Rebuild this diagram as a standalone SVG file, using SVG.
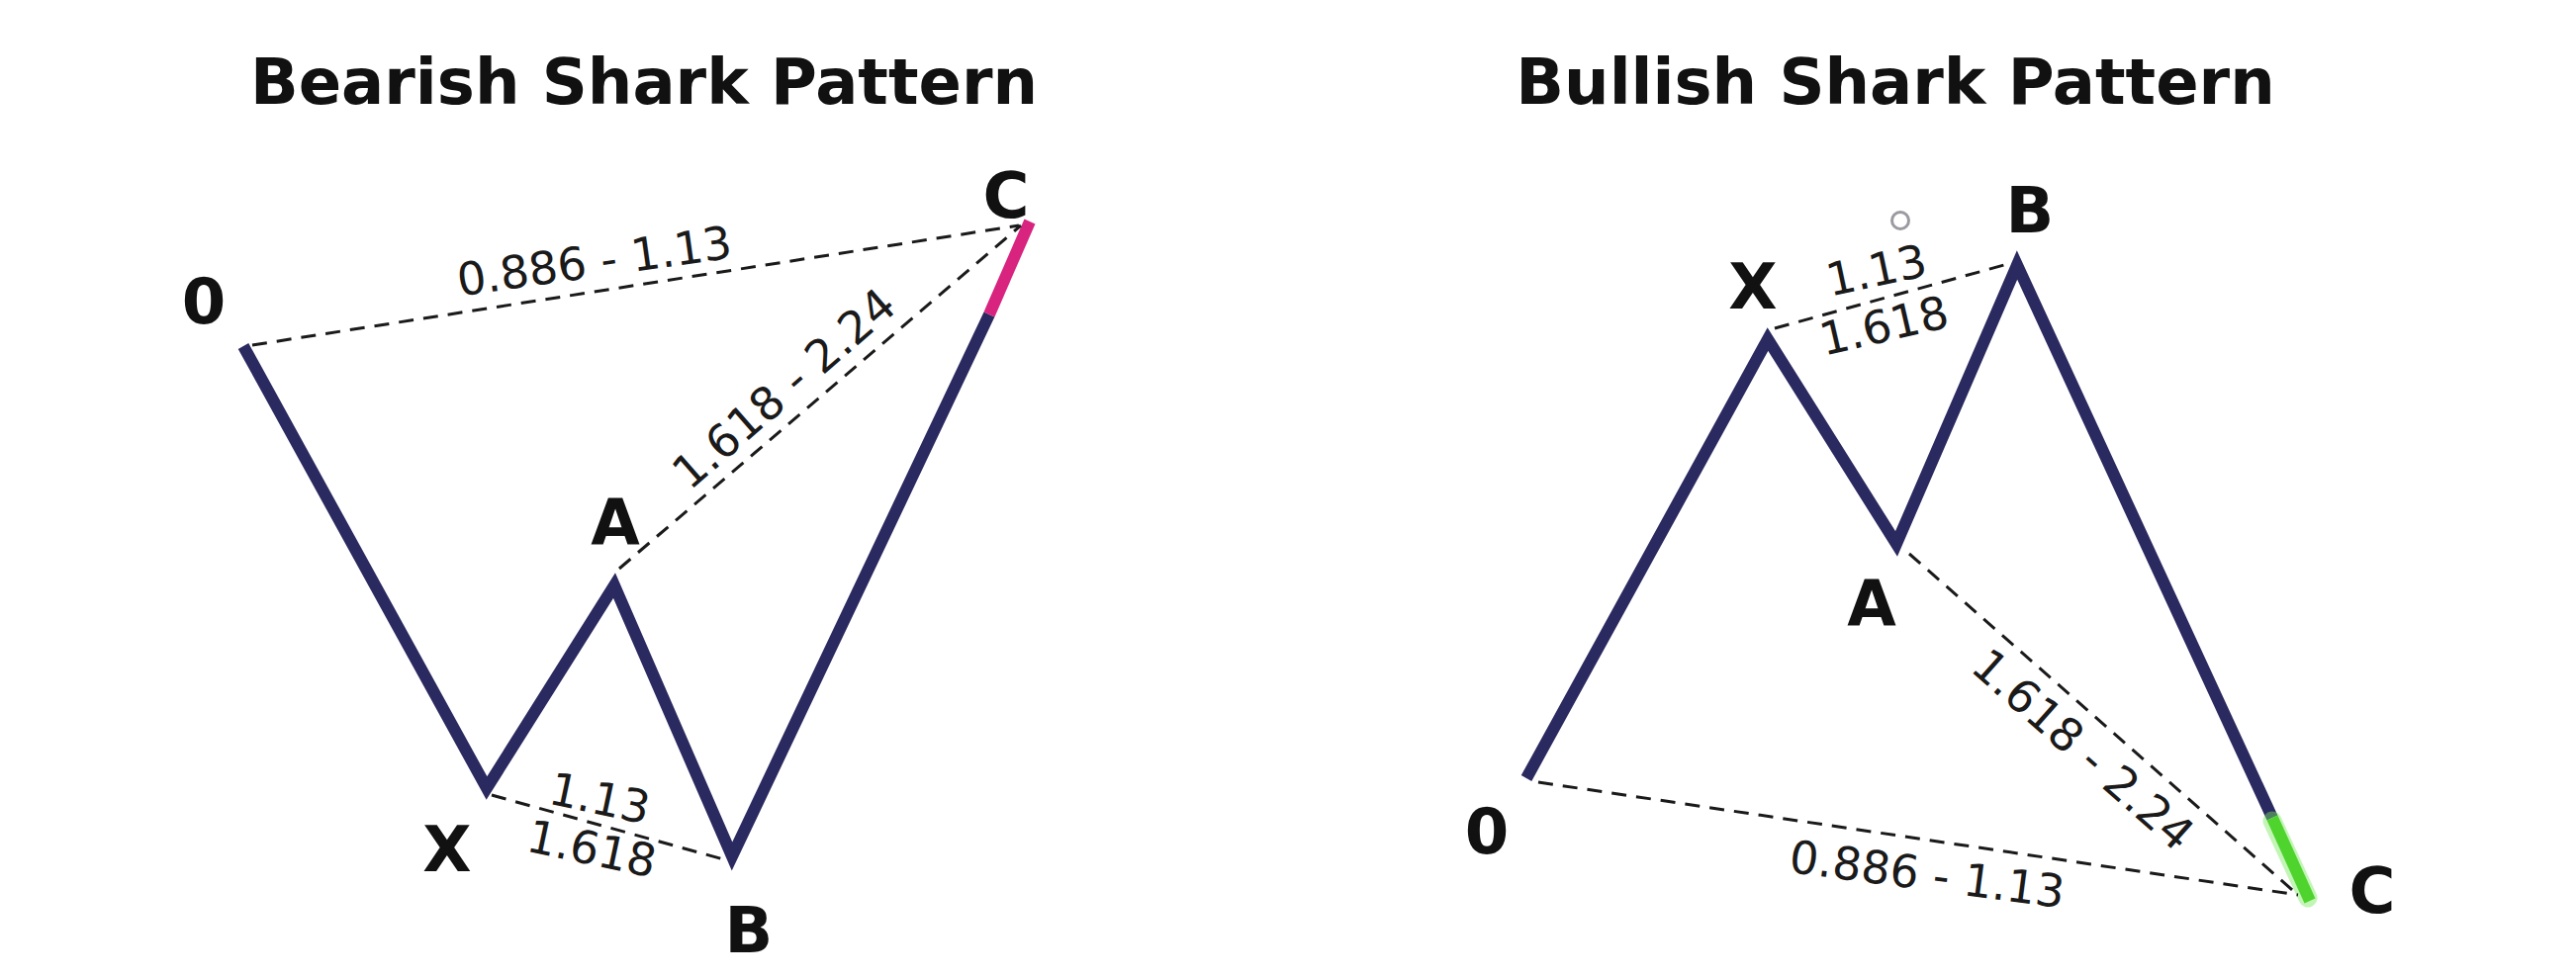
<svg xmlns="http://www.w3.org/2000/svg" width="2604" height="988" viewBox="0 0 2604 988">
  <defs>
    <style>
      .title { font-family: "DejaVu Sans", "Liberation Sans", sans-serif; font-weight: bold; font-size: 64px; fill: #111; text-anchor: middle; }
      .node { font-family: "DejaVu Sans", "Liberation Sans", sans-serif; font-weight: bold; font-size: 64px; fill: #111; text-anchor: middle; }
      .ratio { font-family: "DejaVu Sans", "Liberation Sans", sans-serif; font-size: 46px; fill: #1a1a1a; text-anchor: middle; }
      .swing { fill: none; stroke: #2b2a60; stroke-width: 12; stroke-linejoin: miter; stroke-miterlimit: 6; stroke-linecap: butt; }
      .dash { fill: none; stroke: #1a1a1a; stroke-width: 3; stroke-dasharray: 15 10; }
      .pink { fill: none; stroke: #d8237f; stroke-width: 12; }
      .green { fill: none; stroke: #4fd42e; stroke-width: 12; }
      .glow { fill: none; stroke: #7be860; stroke-width: 19; stroke-opacity: 0.45; stroke-linecap: round; }
    </style>
  </defs>
  <rect width="2604" height="988" fill="#ffffff"/>

  <g id="titles">
    <text id="title-bearish" class="title" x="651" y="105">Bearish Shark Pattern</text>
    <text id="title-bullish" class="title" x="1916" y="105">Bullish Shark Pattern</text>
  </g>

  <g id="connectors">
    <!-- Bearish swings -->
    <polyline class="swing" points="246,350 492,797 621,592 740,866 1000,318"/>
    <line class="pink" x1="1000" y1="318" x2="1041" y2="224"/>
    <!-- Bearish ratio lines -->
    <line class="dash" x1="255" y1="349" x2="1030" y2="228"/>
    <line class="dash" x1="626" y1="575" x2="1032" y2="228"/>
    <line class="dash" x1="497" y1="804" x2="735" y2="870"/>

    <!-- Bullish swings -->
    <polyline class="swing" points="1543,787 1787,343 1917,550 2039,268 2297,827"/>
    <line class="glow" x1="2297" y1="830" x2="2333" y2="908"/>
    <line class="green" x1="2297" y1="827" x2="2335" y2="911"/>
    <!-- Bullish ratio lines -->
    <line class="dash" x1="1794" y1="332" x2="2026" y2="268"/>
    <line class="dash" x1="1930" y1="560" x2="2323" y2="905"/>
    <line class="dash" x1="1555" y1="791" x2="2323" y2="905"/>
  </g>

  <g id="ratio-labels">
    <text class="ratio" x="603" y="280" transform="rotate(-8 603 280)">0.886 - 1.13</text>
    <text class="ratio" x="803" y="405" transform="rotate(-41 803 405)">1.618 - 2.24</text>
    <text class="ratio" x="603" y="823" transform="rotate(12 603 823)">1.13</text>
    <text class="ratio" x="595" y="874" transform="rotate(12 595 874)">1.618</text>

    <text class="ratio" x="1900" y="289" transform="rotate(-12 1900 289)">1.13</text>
    <text class="ratio" x="1908" y="345" transform="rotate(-13 1908 345)">1.618</text>
    <text class="ratio" x="2095" y="770" transform="rotate(41.5 2095 770)">1.618 - 2.24</text>
    <text class="ratio" x="1946" y="900" transform="rotate(7.5 1946 900)">0.886 - 1.13</text>
  </g>

  <circle id="marker-dot" cx="1921" cy="223" r="8.5" fill="none" stroke="#9a9aa2" stroke-width="3"/>

  <g id="bear-0"><text class="node" x="206" y="327">0</text></g>
  <g id="bear-X"><text class="node" x="452" y="881">X</text></g>
  <g id="bear-A"><text class="node" x="622" y="551">A</text></g>
  <g id="bear-B"><text class="node" x="757" y="963">B</text></g>
  <g id="bear-C"><text class="node" x="1017" y="220">C</text></g>

  <g id="bull-0"><text class="node" x="1503" y="863">0</text></g>
  <g id="bull-X"><text class="node" x="1772" y="312">X</text></g>
  <g id="bull-A"><text class="node" x="1892" y="633">A</text></g>
  <g id="bull-B"><text class="node" x="2052" y="235">B</text></g>
  <g id="bull-C"><text class="node" x="2398" y="923">C</text></g>
</svg>
